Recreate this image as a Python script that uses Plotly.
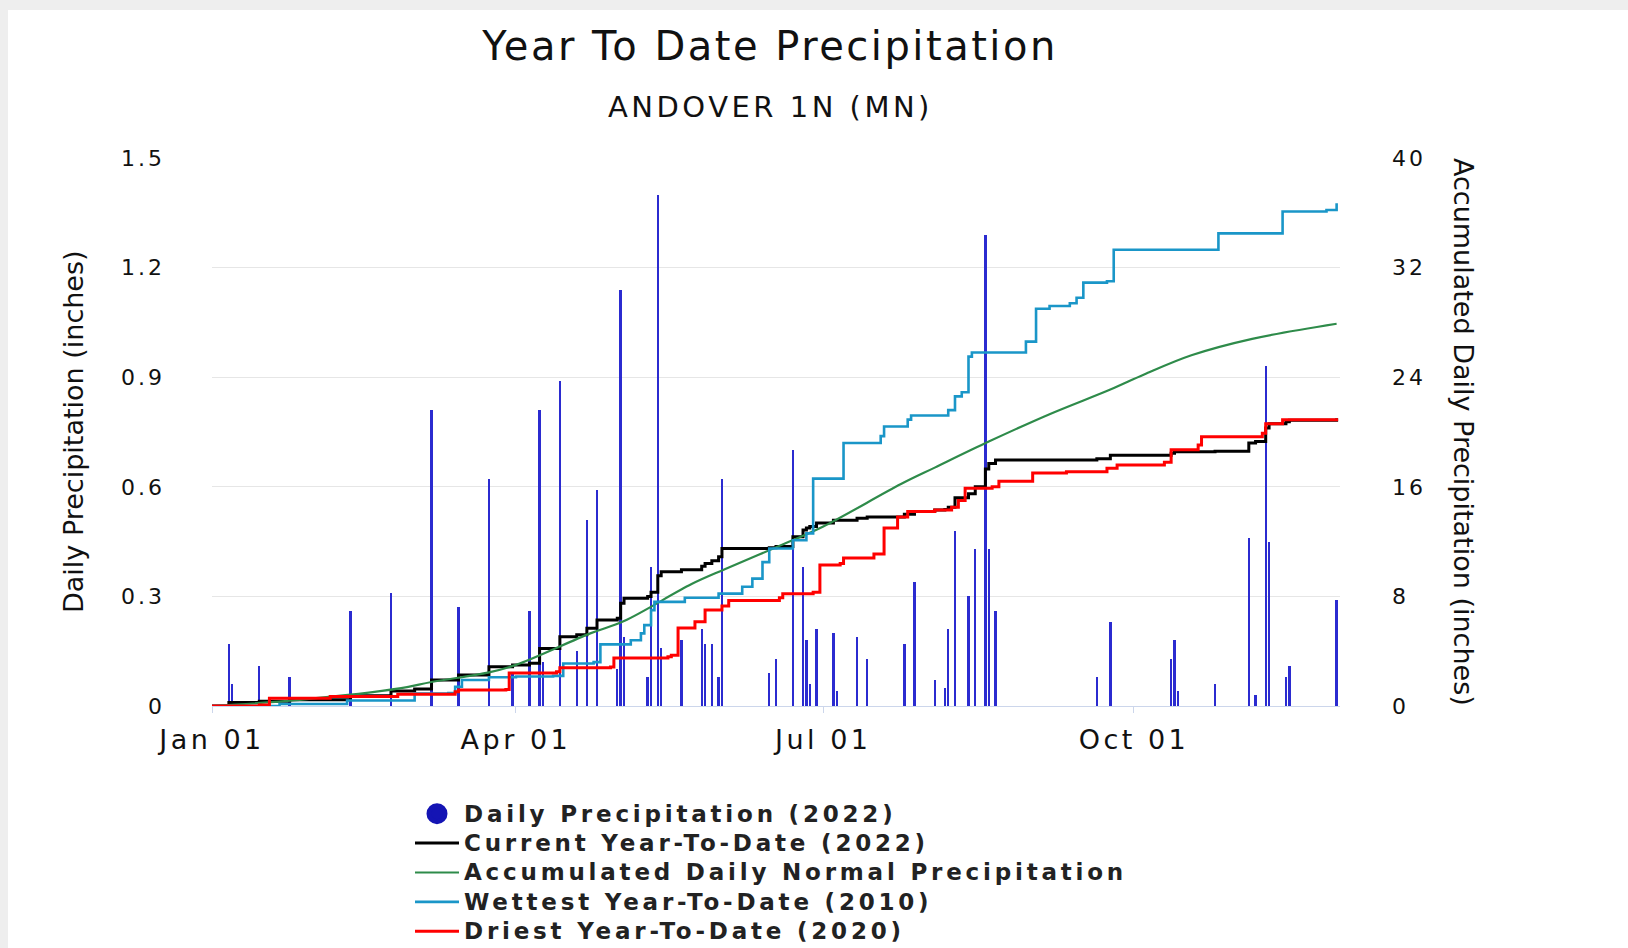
import pandas as pd
import plotly.graph_objects as go

YEAR_START = "2022-01-01"
X_END = "2022-12-01"

# ---- tick labels ----
x_tick_dates = ["2022-01-01", "2022-04-01", "2022-07-01", "2022-10-01"]
x_tick_labels = ["Jan 01", "Apr 01", "Jul 01", "Oct 01"]
left_ticks = [0, 0.3, 0.6, 0.9, 1.2, 1.5]
left_tick_labels = ["0", "0.3", "0.6", "0.9", "1.2", "1.5"]
right_ticks = [0, 8, 16, 24, 32, 40]
right_tick_labels = ["0", "8", "16", "24", "32", "40"]

# ---- Daily precipitation 2022 (day offset from Jan 01, inches) ----
daily_days = [5, 6, 14, 23, 41, 53, 65, 73, 82, 89, 94, 97, 98, 103, 108, 111, 114, 120, 121, 122,
              129, 130, 132, 133, 139, 145, 146, 148, 150, 151, 165, 167, 172, 175, 176, 177, 179, 184, 185, 191,
              194, 205, 208, 214, 217, 218, 220, 224, 226, 229, 230, 232, 262, 266, 284, 285, 286, 297, 307, 309,
              312, 313, 318, 319, 333]
daily_precip = [0.17, 0.06, 0.11, 0.08, 0.26, 0.31, 0.81, 0.27, 0.62, 0.09, 0.26, 0.81, 0.12, 0.89, 0.15, 0.51, 0.59, 0.10, 1.14, 0.19,
                0.08, 0.38, 1.40, 0.16, 0.18, 0.21, 0.17, 0.17, 0.08, 0.62, 0.09, 0.13, 0.70, 0.38, 0.18, 0.06, 0.21, 0.20, 0.04, 0.19,
                0.13, 0.17, 0.34, 0.07, 0.05, 0.21, 0.48, 0.30, 0.43, 1.29, 0.43, 0.26, 0.08, 0.23, 0.13, 0.18, 0.04, 0.06, 0.46, 0.03,
                0.93, 0.45, 0.08, 0.11, 0.29]

# ---- Current year-to-date 2022 (inches) ----
current_days = [0, 5, 14, 23, 41, 53, 60, 65, 73, 82, 89, 94, 97, 103, 108, 111, 114, 120, 121, 122,
                129, 130, 132, 133, 139, 145, 146, 148, 150, 151, 165, 167, 172, 175, 176, 177, 179, 184, 191, 194,
                205, 208, 214, 217, 218, 220, 224, 226, 229, 230, 232, 262, 266, 284, 285, 297, 307, 309, 312, 313,
                318, 319, 333]
current_ytd = [0, 0.25, 0.35, 0.45, 0.75, 1.1, 1.25, 1.9, 2.26, 2.87, 3.0, 3.12, 4.2, 5.06, 5.2, 5.67, 6.28, 6.4, 7.5, 7.86,
               8.0, 8.3, 9.5, 9.8, 9.95, 10.2, 10.4, 10.6, 10.9, 11.5, 11.55, 11.65, 12.36, 12.85, 13.0, 13.1, 13.35, 13.55, 13.7, 13.8,
               14.0, 14.2, 14.3, 14.35, 14.5, 15.2, 15.5, 16.0, 17.3, 17.7, 17.95, 18.05, 18.3, 18.45, 18.56, 18.6, 19.2, 19.3, 20.3, 20.6,
               20.75, 20.85, 21.0]

# ---- Accumulated daily normal precipitation (inches) ----
normal_days = [0, 26, 56, 65, 82, 90, 112, 122, 142, 152, 171, 181, 204, 214, 230, 248, 266, 276, 290, 308, 333]
normal_accum = [0, 0.45, 1.3, 1.75, 2.45, 3.0, 5.3, 6.2, 8.9, 10.0, 12.0, 13.1, 16.2, 17.4, 19.3, 21.3, 23.1, 24.2, 25.6, 26.8, 27.9]

# ---- Wettest year-to-date 2010 (inches) ----
wettest_days = [0, 20, 40, 60, 70, 72, 74, 82, 90, 101, 104, 113, 115, 124, 127, 128, 130, 131, 140, 150,
                157, 160, 163, 165, 172, 176, 178, 186, 187, 198, 199, 206, 207, 218, 220, 222, 224, 225, 241, 244,
                248, 254, 256, 258, 265, 267, 295, 298, 315, 317, 330, 333]
wettest_ytd = [0, 0.15, 0.4, 0.9, 0.95, 1.4, 1.9, 2.1, 2.15, 2.2, 3.1, 3.2, 4.5, 4.8, 5.3, 5.9, 7.0, 7.6, 7.9, 8.2,
               8.7, 9.3, 10.5, 11.5, 12.1, 12.6, 16.6, 16.6, 19.2, 19.7, 20.4, 20.9, 21.2, 21.6, 22.6, 22.9, 25.5, 25.8, 26.6, 29.0,
               29.2, 29.4, 29.8, 30.9, 31.0, 33.3, 33.3, 34.5, 34.5, 36.1, 36.2, 36.7]

# ---- Driest year-to-date 2020 (inches) ----
driest_days = [0, 14, 17, 35, 55, 72, 73, 87, 88, 102, 103, 118, 119, 135, 136, 138, 143, 146, 151, 153,
               168, 169, 178, 180, 186, 187, 196, 199, 203, 206, 214, 219, 221, 223, 231, 233, 243, 253, 265, 268,
               282, 284, 292, 293, 311, 312, 317, 333]
driest_ytd = [0, 0.07, 0.56, 0.7, 0.85, 1.04, 1.17, 1.2, 2.4, 2.5, 2.8, 2.85, 3.5, 3.6, 3.7, 5.7, 6.15, 7.0, 7.3, 7.7,
              7.9, 8.2, 8.3, 10.3, 10.4, 10.8, 11.1, 13.0, 13.8, 14.2, 14.3, 14.5, 15.0, 15.9, 16.0, 16.4, 17.0, 17.1, 17.35, 17.6,
              17.8, 18.7, 19.05, 19.66, 19.9, 20.6, 20.9, 21.0]


def to_dates(days):
    return pd.Timestamp(YEAR_START) + pd.to_timedelta(days, unit="D")


def spaced(text, px, size=None):
    style = f"letter-spacing:{px}px"
    if size is not None:
        style += f";font-size:{size}px"
    return f'<span style="{style}">{text}</span>'


FONT = "DejaVu Sans"
INK = "#111111"
BAR_BLUE = "#2b2bd0"
LEGEND_BLUE = "#1414b4"
FRAME_GRAY = "#eeeeee"

# page geometry (px) used to place things in paper coordinates
PLOT_L, PLOT_R, PLOT_T, PLOT_B = 212, 1340, 158, 706
PW, PH = PLOT_R - PLOT_L, PLOT_B - PLOT_T


def px_x(x):
    return (x - PLOT_L) / PW


def px_y(y):
    return (PLOT_B - y) / PH


fig = go.Figure()

fig.add_trace(go.Bar(
    x=to_dates(daily_days), y=daily_precip, yaxis="y",
    width=0.7 * 86400000, marker=dict(color=BAR_BLUE, line_width=0),
    showlegend=False, name="Daily Precipitation (2022)",
))
fig.add_trace(go.Scatter(
    x=[None], y=[None], mode="markers",
    name=spaced("Daily Precipitation (2022)", 3.8, 23),
    marker=dict(symbol="circle", size=16, color=LEGEND_BLUE, line=dict(color=LEGEND_BLUE, width=5)),
))
line_specs = [
    ("Current Year-To-Date (2022)", current_days, current_ytd, "#000000", 3, "hv"),
    ("Accumulated Daily Normal Precipitation", normal_days, normal_accum, "#2e8b4a", 2.2, "spline"),
    ("Wettest Year-To-Date (2010)", wettest_days, wettest_ytd, "#1a96c8", 2.6, "hv"),
    ("Driest Year-To-Date (2020)", driest_days, driest_ytd, "#ff0000", 3, "hv"),
]
for name, d, v, c, w, shape in line_specs:
    fig.add_trace(go.Scatter(
        x=to_dates(d), y=v, yaxis="y2", mode="lines", name=spaced(name, 3.8, 23),
        line=dict(color=c, width=w, shape=shape),
    ))

fig.update_layout(
    width=1628, height=948,
    margin=dict(l=PLOT_L, r=1628 - PLOT_R, t=PLOT_T, b=948 - PLOT_B, autoexpand=False),
    paper_bgcolor="white", plot_bgcolor="white",
    font=dict(family=FONT, color=INK),
    bargap=0,
    title=dict(
        text=spaced("Year To Date Precipitation", 2.5), font=dict(size=40, family=FONT, color=INK),
        x=770 / 1628, xref="container", xanchor="center",
        y=1 - 46 / 948, yref="container", yanchor="middle",
    ),
    xaxis=dict(
        type="date", range=[YEAR_START, X_END],
        tickvals=x_tick_dates, ticktext=[spaced(t, 3.5) for t in x_tick_labels],
        tickfont=dict(size=27, family=FONT, color=INK),
        showgrid=False, zeroline=False,
        showline=True, linecolor="#ccd6eb", linewidth=1,
        ticks="outside", ticklen=6, tickcolor="#ccd6eb",
        ticklabelstandoff=4,
    ),
    yaxis=dict(
        range=[0, 1.5], tickvals=left_ticks, ticktext=[spaced(t, 3) for t in left_tick_labels],
        tickfont=dict(size=22, family=FONT, color=INK),
        showgrid=True, gridcolor="#e6e6e6", gridwidth=1, zeroline=False,
        ticklabelstandoff=46,
    ),
    yaxis2=dict(
        range=[0, 40], tickvals=right_ticks, ticktext=[spaced(t, 3) for t in right_tick_labels],
        overlaying="y", side="right",
        tickfont=dict(size=22, family=FONT, color=INK),
        showgrid=False, zeroline=False,
        ticklabelstandoff=51,
    ),
    legend=dict(
        x=410 / 1628, xref="container", xanchor="left",
        y=1 - 794 / 948, yref="container", yanchor="top",
        itemwidth=44,
        font=dict(size=20.3, family=FONT, color="#222222", weight="bold"),
        bgcolor="rgba(0,0,0,0)", traceorder="normal",
    ),
    shapes=[
        # light gray page frame along the top and left edges
        dict(type="rect", xref="paper", yref="paper", layer="below", line_width=0, fillcolor=FRAME_GRAY,
             x0=px_x(0), x1=px_x(1628), y0=px_y(10), y1=px_y(0)),
        dict(type="rect", xref="paper", yref="paper", layer="below", line_width=0, fillcolor=FRAME_GRAY,
             x0=px_x(0), x1=px_x(8), y0=px_y(948), y1=px_y(0)),
    ],
    annotations=[
        dict(text=spaced("ANDOVER 1N (MN)", 3.5), xref="paper", yref="paper",
             x=px_x(770), y=px_y(107),
             xanchor="center", yanchor="middle", showarrow=False,
             font=dict(size=29, family=FONT, color=INK)),
        dict(text="Daily Precipitation (inches)", xref="paper", yref="paper",
             x=px_x(73), y=px_y(432), textangle=-90,
             xanchor="center", yanchor="middle", showarrow=False,
             font=dict(size=27, family=FONT, color=INK)),
        dict(text="Accumulated Daily Precipitation (inches)", xref="paper", yref="paper",
             x=px_x(1464), y=px_y(432), textangle=90,
             xanchor="center", yanchor="middle", showarrow=False,
             font=dict(size=27, family=FONT, color=INK)),
    ],
)

fig.write_html("out.html", config={"displayModeBar": False},
               post_script="document.body.style.margin='0px';")
